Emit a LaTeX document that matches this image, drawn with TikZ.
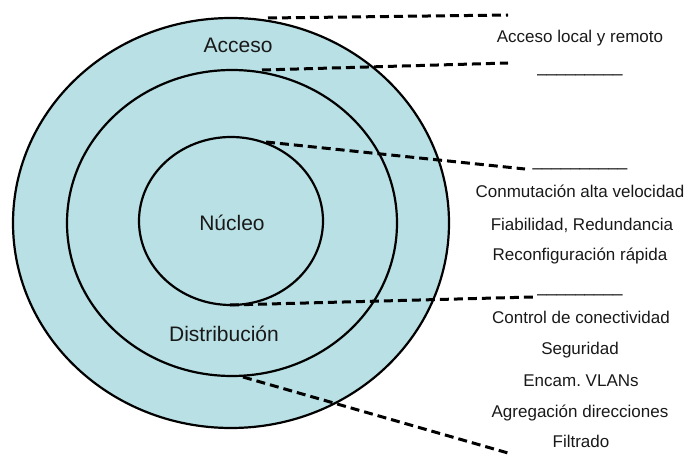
\documentclass[tikz,border=0pt]{standalone}
\usepackage{fontspec}
\setmainfont{Liberation Sans}
\frenchspacing
\definecolor{ringfill}{RGB}{185,224,228}
\definecolor{inkgrey}{RGB}{25,25,25}
\begin{document}
\begin{tikzpicture}[x=1pt,y=-1pt,
  ring/.style={draw=black,line width=2.2pt,fill=ringfill},
  leader/.style={draw=black,line width=3pt,dash pattern=on 9pt off 5pt},
  layername/.style={anchor=base,text=inkgrey,inner sep=0pt,font=\fontsize{21}{24}\selectfont},
  feature/.style={anchor=base,text=inkgrey,inner sep=0pt,font=\fontsize{17}{20}\selectfont},
  blank/.style={anchor=base,text=black,inner sep=0pt,font=\fontsize{17}{20}\selectfont}]
\useasboundingbox (0,0) rectangle (688,457);

% concentric layers
\draw[ring] (231,223) ellipse [x radius=218, y radius=205];
\draw[ring] (232,223) ellipse [x radius=165, y radius=153];
\draw[ring] (231,221) ellipse [x radius=92, y radius=84];

% layer names
\node[layername] (acceso) at (238,53) {Acceso};
\node[layername] (nucleo) at (232,230) {Núcleo};
\node[layername] (distrib) at (224,341) {Distribución};

% leader line anchors on the rings
\coordinate (outerTop) at (268,18);
\coordinate (midTop) at (262,70);
\coordinate (innerTop) at (266,142);
\coordinate (innerBot) at (230,305);
\coordinate (midBot) at (243,377);
% free ends of the leader lines
\coordinate (endA) at (508,15);
\coordinate (endB) at (508,63);
\coordinate (endC) at (525,169);
\coordinate (endD) at (533,297);
\coordinate (endE) at (508,453);

\draw[leader] (outerTop) -- (endA);
\draw[leader] (midTop) -- (endB);
\draw[leader] (innerTop) -- (endC);
\draw[leader] (innerBot) -- (endD);
\draw[leader] (midBot) -- (endE);

% feature lists
\node[feature] (accesoTxt) at (580,43) {Acceso local y remoto};
\node[blank] (blankB) at (580,73) {\_\_\_\_\_\_\_\_\_};

\node[blank] (blankC) at (580,167) {\_\_\_\_\_\_\_\_\_\_};
\node[feature] (nuc1) at (580,198) {Conmutación alta velocidad};
\node[feature] (nuc2) at (582,230) {Fiabilidad, Redundancia};
\node[feature] (nuc3) at (580,261) {Reconfiguración rápida};

\node[blank] (blankD) at (580,292) {\_\_\_\_\_\_\_\_\_};
\node[feature] (dis1) at (581,323) {Control de conectividad};
\node[feature] (dis2) at (580,354) {Seguridad};
\node[feature] (dis3) at (581,386) {Encam. VLANs};
\node[feature] (dis4) at (580,417) {Agregación direcciones};
\node[feature] (dis5) at (581,447) {Filtrado};
\end{tikzpicture}
\end{document}
